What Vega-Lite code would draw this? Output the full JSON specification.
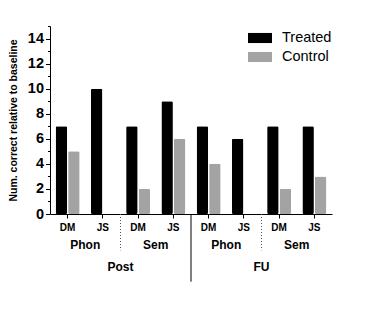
{
  "$schema": "https://vega.github.io/schema/vega-lite/v6.json",
  "autosize": "none",
  "width": 282,
  "height": 188,
  "padding": {"left": 50, "top": 26, "right": 55, "bottom": 101},
  "background": "white",
  "config": {
    "font": "Liberation Sans",
    "view": {"stroke": null}
  },
  "datasets": {
    "scores": [
      {"slot": "Post-Phon-DM", "group": "Treated", "n": 7},
      {"slot": "Post-Phon-DM", "group": "Control", "n": 5},
      {"slot": "Post-Phon-JS", "group": "Treated", "n": 10},
      {"slot": "Post-Phon-JS", "group": "Control", "n": 0},
      {"slot": "Post-Sem-DM", "group": "Treated", "n": 7},
      {"slot": "Post-Sem-DM", "group": "Control", "n": 2},
      {"slot": "Post-Sem-JS", "group": "Treated", "n": 9},
      {"slot": "Post-Sem-JS", "group": "Control", "n": 6},
      {"slot": "FU-Phon-DM", "group": "Treated", "n": 7},
      {"slot": "FU-Phon-DM", "group": "Control", "n": 4},
      {"slot": "FU-Phon-JS", "group": "Treated", "n": 6},
      {"slot": "FU-Phon-JS", "group": "Control", "n": 0},
      {"slot": "FU-Sem-DM", "group": "Treated", "n": 7},
      {"slot": "FU-Sem-DM", "group": "Control", "n": 2},
      {"slot": "FU-Sem-JS", "group": "Treated", "n": 7},
      {"slot": "FU-Sem-JS", "group": "Control", "n": 3}
    ],
    "participants": [
      {"slot": "Post-Phon-DM", "label": "DM"},
      {"slot": "Post-Phon-JS", "label": "JS"},
      {"slot": "Post-Sem-DM", "label": "DM"},
      {"slot": "Post-Sem-JS", "label": "JS"},
      {"slot": "FU-Phon-DM", "label": "DM"},
      {"slot": "FU-Phon-JS", "label": "JS"},
      {"slot": "FU-Sem-DM", "label": "DM"},
      {"slot": "FU-Sem-JS", "label": "JS"}
    ],
    "tasks": [
      {"slot": "Post-Phon-JS", "label": "Phon"},
      {"slot": "Post-Sem-JS", "label": "Sem"},
      {"slot": "FU-Phon-JS", "label": "Phon"},
      {"slot": "FU-Sem-JS", "label": "Sem"}
    ],
    "sessions": [
      {"slot": "Post-Sem-DM", "label": "Post"},
      {"slot": "FU-Sem-DM", "label": "FU"}
    ],
    "taskBreaks": [
      {"slot": "Post-Sem-DM", "top": 0, "low": -2.9},
      {"slot": "FU-Sem-DM", "top": 0, "low": -2.9}
    ],
    "sessionBreaks": [
      {"slot": "FU-Phon-DM", "top": 0, "low": -5.4}
    ]
  },
  "encoding": {
    "x": {
      "field": "slot",
      "type": "nominal",
      "sort": null,
      "scale": {
        "domain": ["Post-Phon-DM", "Post-Phon-JS", "Post-Sem-DM", "Post-Sem-JS", "FU-Phon-DM", "FU-Phon-JS", "FU-Sem-DM", "FU-Sem-JS"],
        "paddingInner": 0,
        "paddingOuter": 0
      },
      "axis": {
        "title": null,
        "labels": false,
        "domainColor": "#000000",
        "tickColor": "#000000",
        "tickSize": 4,
        "grid": false
      }
    }
  },
  "layer": [
    {
      "data": {"name": "scores"},
      "mark": {"type": "bar", "cornerRadius": 1.5},
      "encoding": {
        "xOffset": {
          "field": "group",
          "type": "nominal",
          "sort": ["Treated", "Control"],
          "scale": {"paddingInner": 0.08, "paddingOuter": 0.45}
        },
        "y": {
          "field": "n",
          "type": "quantitative",
          "scale": {"domain": [0, 15], "nice": false},
          "axis": {
            "title": "Num. correct relative to baseline",
            "titleFontSize": 10.5,
            "titleFontWeight": "bold",
            "titleColor": "#000000",
            "titlePadding": 9,
            "values": [0, 1, 2, 3, 4, 5, 6, 7, 8, 9, 10, 11, 12, 13, 14, 15],
            "tickCount": 16,
            "labelExpr": "datum.value % 2 === 0 ? datum.label : ''",
            "labelOverlap": false,
            "labelFontSize": 14.5,
            "labelFontWeight": "bold",
            "labelColor": "#000000",
            "labelPadding": 2,
            "tickSize": {"condition": {"test": "datum.value % 2 === 1", "value": 2.5}, "value": 4.5},
            "tickColor": "#000000",
            "domainColor": "#000000",
            "grid": false
          }
        },
        "color": {
          "field": "group",
          "type": "nominal",
          "sort": ["Treated", "Control"],
          "scale": {"domain": ["Treated", "Control"], "range": ["#000000", "#a3a3a3"]},
          "legend": {
            "title": null,
            "orient": "none",
            "legendX": 198,
            "legendY": 0,
            "symbolType": "M-1,-0.42H1V0.42H-1Z",
            "symbolSize": 576,
            "symbolStrokeWidth": 0,
            "labelFontSize": 14.5,
            "labelColor": "#000000",
            "labelOffset": 10,
            "rowPadding": -1,
            "padding": 0
          }
        }
      }
    },
    {
      "data": {"name": "participants"},
      "mark": {"type": "text", "fontSize": 10, "fontWeight": "bold", "baseline": "middle", "color": "#000000"},
      "encoding": {
        "y": {"datum": -1.15, "type": "quantitative"},
        "text": {"field": "label"}
      }
    },
    {
      "data": {"name": "tasks"},
      "mark": {"type": "text", "fontSize": 12, "fontWeight": "bold", "baseline": "middle", "color": "#000000"},
      "encoding": {
        "x": {"field": "slot", "type": "nominal", "bandPosition": 0},
        "y": {"datum": -2.48, "type": "quantitative"},
        "text": {"field": "label"}
      }
    },
    {
      "data": {"name": "sessions"},
      "mark": {"type": "text", "fontSize": 12, "fontWeight": "bold", "baseline": "middle", "color": "#000000"},
      "encoding": {
        "x": {"field": "slot", "type": "nominal", "bandPosition": 0},
        "y": {"datum": -4.2, "type": "quantitative"},
        "text": {"field": "label"}
      }
    },
    {
      "data": {"name": "taskBreaks"},
      "mark": {"type": "rule", "strokeDash": [1, 2], "color": "#555555", "strokeWidth": 1},
      "encoding": {
        "x": {"field": "slot", "type": "nominal", "bandPosition": 0},
        "y": {"field": "top", "type": "quantitative"},
        "y2": {"field": "low"}
      }
    },
    {
      "data": {"name": "sessionBreaks"},
      "mark": {"type": "rule", "color": "#000000", "strokeWidth": 1},
      "encoding": {
        "x": {"field": "slot", "type": "nominal", "bandPosition": 0},
        "y": {"field": "top", "type": "quantitative"},
        "y2": {"field": "low"}
      }
    }
  ]
}
